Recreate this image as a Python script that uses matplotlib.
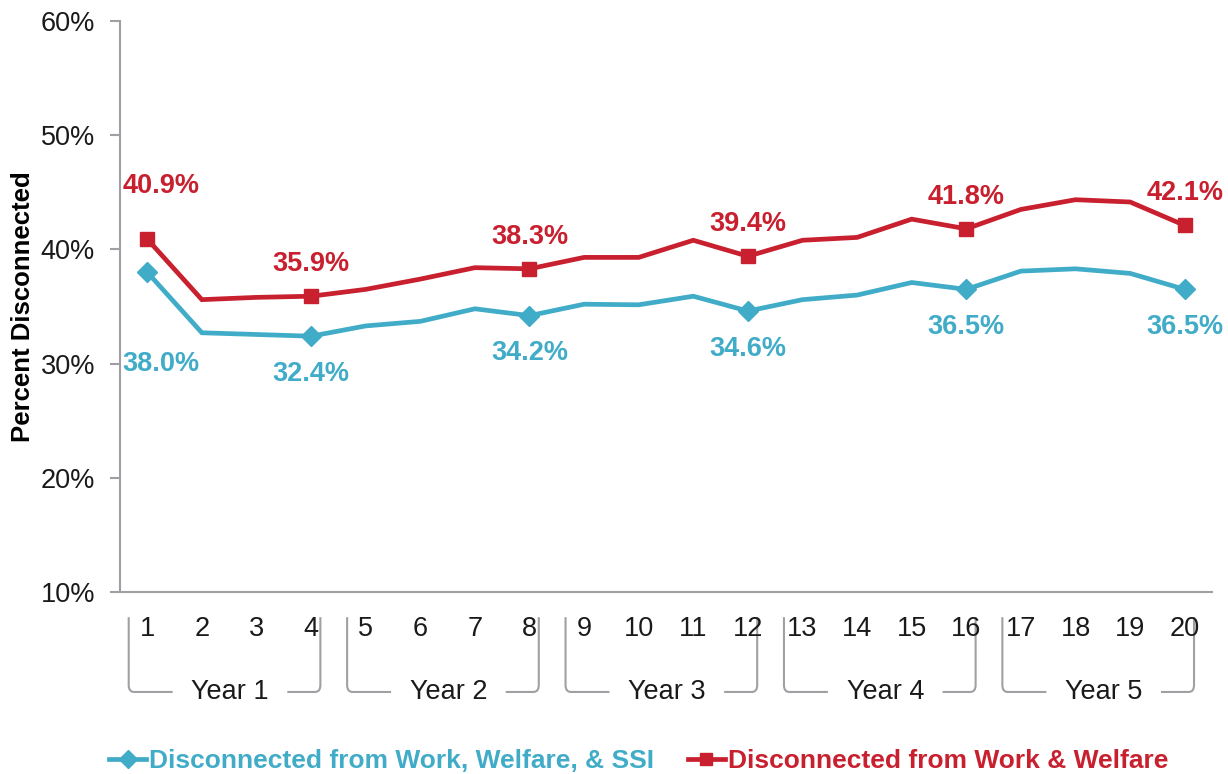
import matplotlib
matplotlib.use('Agg')
import matplotlib.pyplot as plt
from matplotlib.path import Path
from matplotlib.patches import PathPatch
import matplotlib.transforms as mtransforms

plt.rcParams['font.family'] = ['Liberation Sans', 'DejaVu Sans']

# quarters since exit
quarters = list(range(1, 21))

# disconnected from work, welfare & SSI
ssi = [38.0, 32.7, 32.55, 32.4, 33.3, 33.7, 34.8, 34.2, 35.2, 35.15,
       35.9, 34.6, 35.6, 36.0, 37.1, 36.5, 38.1, 38.3, 37.9, 36.5]

# disconnected from work & welfare
welfare = [40.9, 35.6, 35.8, 35.9, 36.5, 37.4, 38.4, 38.3, 39.3, 39.3,
           40.8, 39.4, 40.8, 41.05, 42.65, 41.8, 43.5, 44.35, 44.15, 42.1]

# quarters that get a marker and a value label
marked = [1, 4, 8, 12, 16, 20]

years = ['Year 1', 'Year 2', 'Year 3', 'Year 4', 'Year 5']

blue = '#41acc8'
red = '#c8202f'
grey = '#a0a0a4'
fs = 19.5

fig = plt.figure(figsize=(12.28, 7.74), dpi=100)
ax = fig.add_axes([0.0977, 0.2351, 0.8893, 0.7378])

idx = [q - 1 for q in marked]

ax.plot(quarters, ssi, color=blue, lw=3.4, solid_joinstyle='miter', zorder=3)
ax.plot(marked, [ssi[i] for i in idx], ls='none', marker='D',
        ms=10, color=blue, zorder=4)
ax.plot(quarters, welfare, color=red, lw=3.4, solid_joinstyle='miter', zorder=3)
ax.plot(marked, [welfare[i] for i in idx], ls='none', marker='s',
        ms=10, color=red, zorder=4)

# value labels
for k, i in enumerate(idx):
    dx = 10 if k == 0 else 0
    up = 38 if k == 0 else 23
    down = 66 if k == 0 else 27
    ax.annotate(f'{welfare[i]:.1f}%', (quarters[i], welfare[i]),
                xytext=(dx, up), textcoords='offset points',
                ha='center', va='center', color=red,
                fontsize=fs, fontweight='bold')
    ax.annotate(f'{ssi[i]:.1f}%', (quarters[i], ssi[i]),
                xytext=(dx, -down), textcoords='offset points',
                ha='center', va='center', color=blue,
                fontsize=fs, fontweight='bold')

ax.set_xlim(0.5, 20.5)
ax.set_ylim(10, 60)
ax.set_yticks([10, 20, 30, 40, 50, 60])
ax.set_yticklabels([f'{v}%' for v in [10, 20, 30, 40, 50, 60]])
ax.set_xticks(quarters)
ax.set_xticklabels([str(q) for q in quarters])

for s in ['top', 'right']:
    ax.spines[s].set_visible(False)
for s in ['left', 'bottom']:
    ax.spines[s].set_color(grey)
    ax.spines[s].set_linewidth(1.5)
ax.tick_params(axis='y', length=7, width=1.5, color=grey, labelsize=fs,
               labelcolor='#1a1a1a', pad=11)
ax.tick_params(axis='x', length=0, labelsize=fs, labelcolor='#1a1a1a', pad=17)

ax.set_ylabel('Percent Disconnected', fontsize=18.5, fontweight='bold')
ax.yaxis.set_label_coords(-0.078, 0.5)

# year brackets below the quarter labels
trans = mtransforms.blended_transform_factory(ax.transData, ax.transAxes)
y_top, y_bot, r = -0.044, -0.175, 0.012
for n, name in enumerate(years):
    first = n * 4 + 1
    last = first + 3
    left = first - 0.34
    right = last + 0.17
    mid = (left + right) / 2 + 0.1
    verts = [(left, y_top), (left, y_bot + r), (left, y_bot),
             (left + 0.1, y_bot), (mid - 1.05, y_bot)]
    codes = [Path.MOVETO, Path.LINETO, Path.CURVE3, Path.CURVE3, Path.LINETO]
    ax.add_patch(PathPatch(Path(verts, codes), fc='none', ec=grey, lw=1.5,
                           transform=trans, clip_on=False))
    verts = [(mid + 1.05, y_bot), (right - 0.1, y_bot), (right, y_bot),
             (right, y_bot + r), (right, y_top)]
    codes = [Path.MOVETO, Path.LINETO, Path.CURVE3, Path.CURVE3, Path.LINETO]
    ax.add_patch(PathPatch(Path(verts, codes), fc='none', ec=grey, lw=1.5,
                           transform=trans, clip_on=False))
    ax.text(mid, y_bot, name, transform=trans, ha='center', va='center',
            fontsize=fs, color='#1a1a1a', clip_on=False)

# legend
h1, = ax.plot([], [], color=blue, lw=3.4, marker='D', ms=9)
h2, = ax.plot([], [], color=red, lw=3.4, marker='s', ms=9)
leg = fig.legend([h1, h2], ['Disconnected from Work, Welfare, & SSI',
                            'Disconnected from Work & Welfare'],
                 loc='center', bbox_to_anchor=(0.52, 0.017), ncol=2,
                 frameon=False, handlelength=1.4, handletextpad=0.1,
                 columnspacing=1.3, borderpad=0.1,
                 prop={'size': 19, 'weight': 'bold'})
for t, c in zip(leg.get_texts(), [blue, red]):
    t.set_color(c)

fig.savefig('out.png', dpi=100)
